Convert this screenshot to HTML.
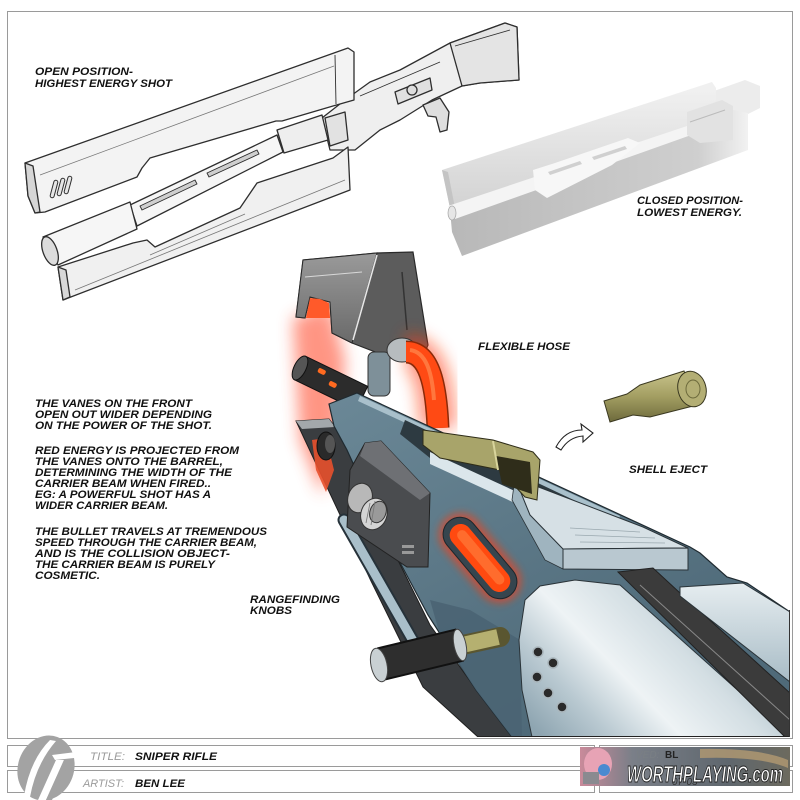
<!DOCTYPE html>
<html><head><meta charset="utf-8"><style>
html,body{margin:0;padding:0;background:#fff;width:800px;height:800px;overflow:hidden}
svg{display:block}
.t{font-family:"Liberation Sans",sans-serif;font-weight:bold;font-style:italic;font-size:11px;fill:#111}
.g{font-family:"Liberation Sans",sans-serif;font-style:italic;font-size:11px;fill:#9a9a9a}
</style></head><body>
<svg width="800" height="800" viewBox="0 0 800 800" xmlns="http://www.w3.org/2000/svg">
<defs>
 <filter id="b8" x="-60%" y="-60%" width="220%" height="220%"><feGaussianBlur stdDeviation="8"/></filter>
 <filter id="b4" x="-60%" y="-60%" width="220%" height="220%"><feGaussianBlur stdDeviation="4"/></filter>
 <linearGradient id="silver" gradientUnits="userSpaceOnUse" x1="545" y1="740" x2="690" y2="600">
  <stop offset="0" stop-color="#8ea5b1"/><stop offset="0.25" stop-color="#b9c9d1"/>
  <stop offset="0.5" stop-color="#eef3f5"/><stop offset="0.8" stop-color="#d3dee3"/><stop offset="1" stop-color="#b3c4cc"/>
 </linearGradient>
 <linearGradient id="bar" x1="0" y1="0" x2="0" y2="1">
  <stop offset="0" stop-color="#e6edf0"/><stop offset="1" stop-color="#a8bcc6"/>
 </linearGradient>
 <linearGradient id="body" gradientUnits="userSpaceOnUse" x1="340" y1="400" x2="520" y2="737">
  <stop offset="0" stop-color="#6a8796"/><stop offset="1" stop-color="#4f6a79"/>
 </linearGradient>
 <linearGradient id="vane" x1="0" y1="0" x2="0" y2="1">
  <stop offset="0" stop-color="#9a9a9a"/><stop offset="1" stop-color="#6a6a6a"/>
 </linearGradient>
 <linearGradient id="lslab" gradientUnits="userSpaceOnUse" x1="450" y1="0" x2="760" y2="0">
  <stop offset="0" stop-color="#b8b8b8"/><stop offset="0.8" stop-color="#cfcfcf"/><stop offset="1" stop-color="#fafafa"/>
 </linearGradient>
 <linearGradient id="uslab" gradientUnits="userSpaceOnUse" x1="0" y1="90" x2="0" y2="210">
  <stop offset="0" stop-color="#f0f0f0"/><stop offset="1" stop-color="#d2d2d2"/>
 </linearGradient>
 <linearGradient id="shell" x1="0" y1="0" x2="0" y2="1">
  <stop offset="0" stop-color="#c9c48c"/><stop offset="0.5" stop-color="#a39e62"/><stop offset="1" stop-color="#6d6a3c"/>
 </linearGradient>
 <linearGradient id="banner" x1="0" y1="0" x2="1" y2="0">
  <stop offset="0" stop-color="#c98a9a"/><stop offset="0.25" stop-color="#7a7f88"/><stop offset="0.7" stop-color="#5f676e"/><stop offset="1" stop-color="#6c6a5e"/>
 </linearGradient>
 <clipPath id="gclip"><rect x="0" y="0" width="790" height="737"/></clipPath>
</defs>

<!-- frame -->
<rect x="7.5" y="11.5" width="785" height="727" fill="#fff" stroke="#9a9a9a"/>

<!-- ===== OPEN POSITION GUN (sketch) ===== -->
<g stroke="#2e2e2e" stroke-width="1.3" stroke-linejoin="round">
 <polygon points="322,118 345,100 370,82 400,70 450,43 505,23 517,27 519,80 480,83 462,86 432,100 400,120 380,130 355,150 330,150" fill="#efefef"/>
 <polygon points="450,43 505,23 517,27 519,80 480,83 462,86" fill="#e4e4e4"/>
 <polygon points="423,105 440,98 449,112 447,130 440,132 436,117 428,116" fill="#dedede"/>
 <polygon points="395,92 430,78 432,90 398,104" fill="#e0e0e0"/>
 <circle cx="412" cy="90" r="5" fill="#ddd"/>
 <polygon points="325,118 345,112 348,140 330,146" fill="#e2e2e2"/>
 <line x1="360" y1="96" x2="440" y2="62" stroke-width="0.8"/>
 <line x1="455" y1="46" x2="510" y2="30" stroke-width="0.8"/>
 <polygon points="58,267 133,243 147,240 155,247 240,208 257,183 333,158 348,147 350,190 63,300" fill="#f0f0f0"/>
 <polygon points="58,267 63,300 70,297 66,270" fill="#d8d8d8"/>
 <line x1="75" y1="290" x2="345" y2="180" stroke="#777" stroke-width="0.8"/>
 <line x1="150" y1="255" x2="245" y2="214" stroke="#777" stroke-width="0.8"/>
 <polygon points="130,205 277,135 283,152 137,226" fill="#f6f6f6"/>
 <polygon points="277,130 322,115 328,140 284,153" fill="#eeeeee"/>
 <polygon points="43,237 130,202 137,229 58,265" fill="#f6f6f6"/>
 <ellipse cx="50" cy="251" rx="7" ry="15" transform="rotate(-20 50 251)" fill="#dcdcdc"/>
 <polygon points="140,206 195,180 197,184 142,210" fill="#cfcfcf" stroke-width="0.9"/>
 <polygon points="207,173 257,150 259,154 209,177" fill="#cfcfcf" stroke-width="0.9"/>
 <polygon points="25,163 348,48 354,52 354,100 333,106 282,121 276,121 150,158 142,168 137,177 45,212 35,213 28,196" fill="#f3f3f3"/>
 <polygon points="25,163 33,166 40,212 35,213 28,196" fill="#d6d6d6"/>
 <line x1="40" y1="175" x2="334" y2="66" stroke="#777" stroke-width="0.8"/>
 <line x1="335" y1="55" x2="336" y2="104" stroke-width="0.9"/>
 <g fill="#e6e6e6" stroke-width="1">
  <rect x="52" y="180" width="4" height="18" rx="2" transform="rotate(15 54 189)"/>
  <rect x="59" y="178" width="4" height="18" rx="2" transform="rotate(15 61 187)"/>
  <rect x="66" y="176" width="4" height="18" rx="2" transform="rotate(15 68 185)"/>
 </g>
</g>

<!-- ===== CLOSED POSITION GUN (shaded) ===== -->
<g>
 <polygon points="700,96 745,80 760,86 760,108 740,118 700,118" fill="#ececec"/>
 <polygon points="450,210 733,110 748,113 748,150 462,256 452,232" fill="url(#lslab)"/>
 <polygon points="442,170 712,82 716,88 716,100 690,128 450,208" fill="url(#uslab)"/>
 <polygon points="442,170 448,172 455,208 450,208" fill="#c4c4c4"/>
 <polygon points="448,206 690,125 694,134 455,219" fill="#f4f4f4"/>
 <ellipse cx="452" cy="213" rx="4" ry="7" fill="#e6e6e6" stroke="#aaa" stroke-width="0.8"/>
 <polygon points="533,170 555,163 628,138 640,143 612,165 547,198 535,190" fill="#f7f7f7"/>
 <polygon points="548,172 580,161 582,164 550,175" fill="#d0d0d0"/>
 <polygon points="592,157 625,146 627,149 594,160" fill="#d0d0d0"/>
 <polygon points="687,112 722,100 733,106 733,140 700,143 687,135" fill="#e2e2e2"/>
 <line x1="690" y1="122" x2="725" y2="110" stroke="#bbb" stroke-width="1"/>
</g>

<!-- ===== MAIN GUN ===== -->
<g clip-path="url(#gclip)">
 <polygon points="293,318 330,305 345,360 338,440 322,495 300,440" fill="#ff5030" opacity="0.6" filter="url(#b8)"/>
 <polygon points="303,260 377,253 413,252 428,345 425,352 378,353 352,343 332,333 330,302 310,297 305,318 296,317" fill="#5c5c5c" stroke="#2a2a2a" stroke-width="1.2"/>
 <polygon points="303,260 377,253 352,343 332,333 330,302 310,297 305,318 296,317" fill="url(#vane)" stroke="#2a2a2a" stroke-width="1"/>
 <line x1="377" y1="255" x2="353" y2="340" stroke="#e8e8e8" stroke-width="1.5"/>
 <line x1="305" y1="277" x2="362" y2="272" stroke="#d8d8d8" stroke-width="1"/>
 <line x1="402" y1="272" x2="407" y2="330" stroke="#333" stroke-width="1.5"/>
 <polygon points="310,298 320,299 329,303 330,318 306,318" fill="#ff5a2a"/>
 <rect x="368" y="352" width="22" height="44" rx="6" fill="#7e9099" stroke="#333" stroke-width="1"/>
 <path d="M406,352 C428,352 436,380 438,428" stroke="#ff3a10" stroke-width="36" fill="none" opacity="0.55" filter="url(#b8)"/>
 <ellipse cx="402" cy="350" rx="15" ry="12" fill="#b7bcbf" stroke="#333" stroke-width="1"/>
 <path d="M406,352 C428,352 436,380 438,428" stroke="#8a2a0a" stroke-width="23" fill="none"/>
 <path d="M406,352 C428,352 436,380 438,428" stroke="#ff4a14" stroke-width="20" fill="none"/>
 <path d="M410,350 C426,352 432,372 434,400" stroke="#ff8a50" stroke-width="4" fill="none" opacity="0.7"/>
 <polygon points="305.7,356.3 367.7,386.3 356.3,409.7 294.3,379.7" fill="#2c2c2c" stroke="#111" stroke-width="1"/>
 <ellipse cx="300" cy="368" rx="6" ry="13" transform="rotate(26 300 368)" fill="#555" stroke="#111"/>
 <rect x="318" y="369" width="8" height="5" rx="2" fill="#ff6a20" transform="rotate(26 322 371)"/>
 <rect x="329" y="382" width="8" height="5" rx="2" fill="#ff6a20" transform="rotate(26 333 384)"/>
 <polygon points="296,421 329,419 336,428 345,445 388,540 430,625 480,695 512,737 478,737 423,687 371,581" fill="#3a3d40" stroke="#1e1e1e" stroke-width="1"/>
 <polygon points="296,421 329,419 335,427 302,429" fill="#a3a8ab"/>
 <polygon points="312,440 326,438 334,470 326,492 316,470" fill="#e8502c" opacity="0.9"/>
 <polygon points="329,404 357,393 690,547 700,553 727,577 747,583 790,612 790,737 512,737 476,690 428,615 388,540 347,450 334,426" fill="url(#body)" stroke="#1f2a30" stroke-width="1.2"/>
 <line x1="344" y1="520" x2="416" y2="646" stroke="#26323a" stroke-width="13" stroke-linecap="round"/>
 <line x1="344" y1="520" x2="416" y2="646" stroke="#a9bfca" stroke-width="9" stroke-linecap="round"/>
 <polygon points="430,600 470,610 520,640 522,737 512,737 476,690 440,635" fill="#4a6473" opacity="0.9"/>
 <!-- top outer wall strip -->
 <polygon points="360,396 620,516 618,521 358,401" fill="#a9c0cb"/>
 <polygon points="405,420 618,521 605,530 540,505 430,458 400,434" fill="#2d3a41"/>
 <polygon points="430,452 565,514 565,526 430,464" fill="#dbe6eb"/>
 <ellipse cx="326" cy="446" rx="9" ry="14" fill="#2a2a2a" stroke="#111"/>
 <ellipse cx="330" cy="444" rx="5" ry="9" fill="#555"/>
 <polygon points="365,443 381,441 430,493 428,567 407,567 347,527 350,470" fill="#4a4c4f" stroke="#222" stroke-width="1"/>
 <polygon points="365,443 381,441 430,493 420,500 360,456" fill="#6e7074"/>
 <g stroke="#333" stroke-width="1">
  <ellipse cx="360" cy="498" rx="12" ry="15" transform="rotate(20 360 498)" fill="#b8b8b8"/>
  <ellipse cx="374" cy="514" rx="13" ry="16" transform="rotate(20 374 514)" fill="#d4d4d4"/>
  <ellipse cx="378" cy="512" rx="8" ry="11" transform="rotate(20 378 512)" fill="#9a9a9a"/>
  <line x1="370" y1="503" x2="366" y2="523" stroke="#777" stroke-width="0.8"/>
  <line x1="375" y1="501" x2="371" y2="525" stroke="#777" stroke-width="0.8"/>
 </g>
 <rect x="402" y="545" width="12" height="3" fill="#999"/><rect x="402" y="551" width="12" height="3" fill="#999"/>
 <g transform="translate(480 558) rotate(50)">
  <rect x="-52" y="-22" width="104" height="44" rx="22" fill="#ff3a10" opacity="0.6" filter="url(#b4)"/>
  <rect x="-48" y="-17" width="96" height="34" rx="17" fill="#36454e" stroke="#1b252b"/>
  <rect x="-41" y="-11" width="82" height="22" rx="11" fill="#ff4a10"/>
  <rect x="-34" y="-6" width="68" height="10" rx="5" fill="#ff7a3a" opacity="0.7"/>
 </g>
 <polygon points="515,478 530,515 563,549 563,569 545,560 512,500" fill="#9fb4bf" stroke="#2a3338" stroke-width="0.8"/>
 <polygon points="515,478 643,527 688,548 563,549 530,515" fill="#d6e0e5" stroke="#2a3338" stroke-width="1"/>
 <polygon points="563,549 688,548 688,570 563,569" fill="#b9c8d0" stroke="#2a3338" stroke-width="1"/>
 <g stroke="#9aa8af" stroke-width="0.7"><line x1="570" y1="528" x2="640" y2="532"/><line x1="575" y1="535" x2="655" y2="538"/><line x1="580" y1="542" x2="665" y2="543"/></g>
 <polygon points="423,430 493,440 533,452 540,460 537,500 525,497 500,470 440,458 423,445" fill="#a8a46a" stroke="#2e2c18" stroke-width="1"/>
 <polygon points="496,456 530,462 532,494 502,484" fill="#2f2d1a"/>
 <line x1="493" y1="441" x2="498" y2="470" stroke="#d8d49c" stroke-width="2"/>
 <polygon points="525,600 540,586 575,580 620,585 790,737 532,737 522,690 519,640" fill="url(#silver)" stroke="#2a3338" stroke-width="1"/>
 <g fill="#2a2a2a" stroke="#aab6bc" stroke-width="1.5">
  <circle cx="538" cy="652" r="5"/><circle cx="553" cy="663" r="5"/><circle cx="537" cy="677" r="5"/><circle cx="548" cy="693" r="5"/><circle cx="562" cy="707" r="5"/>
 </g>
 <polygon points="618,572 653,568 680,593 790,693 790,737 785,737" fill="#3b3b3b" stroke="#222"/>
 <line x1="640" y1="585" x2="790" y2="720" stroke="#888" stroke-width="1"/>
 <polygon points="680,587 743,583 790,612 790,682 680,596" fill="url(#bar)" stroke="#2a3338" stroke-width="1"/>
 <line x1="458" y1="646" x2="500" y2="637" stroke="#5a5630" stroke-width="20" stroke-linecap="round"/>
 <line x1="458" y1="646" x2="498" y2="637" stroke="#b5b070" stroke-width="16"/>
 <line x1="381" y1="664" x2="460" y2="645" stroke="#111" stroke-width="34"/>
 <line x1="381" y1="664" x2="460" y2="645" stroke="#2e2e2e" stroke-width="30"/>
 <ellipse cx="379" cy="665" rx="8" ry="17" transform="rotate(-12 379 665)" fill="#c9d0d3" stroke="#444"/>
 <ellipse cx="460" cy="645" rx="6" ry="16" transform="rotate(-12 460 645)" fill="#c9d0d3" stroke="#444"/>
 <line x1="478" y1="737" x2="790" y2="737" stroke="#222" stroke-width="2"/>
 <line x1="790" y1="610" x2="790" y2="737" stroke="#333" stroke-width="2"/>
</g>

<g stroke="#3a3820" stroke-width="1">
 <polygon points="684,371 640,385 627,394 604,401 610,422 633,415 650,417 697,405" fill="url(#shell)"/>
 <ellipse cx="692" cy="389" rx="14" ry="18" transform="rotate(-15 692 389)" fill="#b3ae74"/>
 <ellipse cx="693" cy="389" rx="7" ry="9" fill="none" stroke="#6d6a3c"/>
</g>
<path d="M556,447 Q565,430 582,430 L581,424 L593,433 L583,442 L583,436 Q569,437 561,450 Z" fill="#fff" stroke="#222" stroke-width="1.1"/>

<text class="t" x="35" y="75" textLength="98" lengthAdjust="spacingAndGlyphs">OPEN POSITION-</text>
<text class="t" x="35" y="87" textLength="137" lengthAdjust="spacingAndGlyphs">HIGHEST ENERGY SHOT</text>
<text class="t" x="637" y="204" textLength="106" lengthAdjust="spacingAndGlyphs">CLOSED POSITION-</text>
<text class="t" x="637" y="216" textLength="105" lengthAdjust="spacingAndGlyphs">LOWEST ENERGY.</text>
<text class="t" x="478" y="350" textLength="92" lengthAdjust="spacingAndGlyphs">FLEXIBLE HOSE</text>
<text class="t" x="629" y="473" textLength="78" lengthAdjust="spacingAndGlyphs">SHELL EJECT</text>
<text class="t" x="250" y="603" textLength="90" lengthAdjust="spacingAndGlyphs">RANGEFINDING</text>
<text class="t" x="250" y="614" textLength="42" lengthAdjust="spacingAndGlyphs">KNOBS</text>

<text class="t" x="35" y="407" textLength="157" lengthAdjust="spacingAndGlyphs">THE VANES ON THE FRONT</text>
<text class="t" x="35" y="418" textLength="177" lengthAdjust="spacingAndGlyphs">OPEN OUT WIDER DEPENDING</text>
<text class="t" x="35" y="429" textLength="177" lengthAdjust="spacingAndGlyphs">ON THE POWER OF THE SHOT.</text>

<text class="t" x="35" y="454" textLength="204" lengthAdjust="spacingAndGlyphs">RED ENERGY IS PROJECTED FROM</text>
<text class="t" x="35" y="465" textLength="188" lengthAdjust="spacingAndGlyphs">THE VANES ONTO THE BARREL,</text>
<text class="t" x="35" y="476" textLength="197" lengthAdjust="spacingAndGlyphs">DETERMINING THE WIDTH OF THE</text>
<text class="t" x="35" y="487" textLength="176" lengthAdjust="spacingAndGlyphs">CARRIER BEAM WHEN FIRED..</text>
<text class="t" x="35" y="498" textLength="176" lengthAdjust="spacingAndGlyphs">EG: A POWERFUL SHOT HAS A</text>
<text class="t" x="35" y="509" textLength="133" lengthAdjust="spacingAndGlyphs">WIDER CARRIER BEAM.</text>

<text class="t" x="35" y="535" textLength="232" lengthAdjust="spacingAndGlyphs">THE BULLET TRAVELS AT TREMENDOUS</text>
<text class="t" x="35" y="546" textLength="222" lengthAdjust="spacingAndGlyphs">SPEED THROUGH THE CARRIER BEAM,</text>
<text class="t" x="35" y="557" textLength="195" lengthAdjust="spacingAndGlyphs">AND IS THE COLLISION OBJECT-</text>
<text class="t" x="35" y="568" textLength="180" lengthAdjust="spacingAndGlyphs">THE CARRIER BEAM IS PURELY</text>
<text class="t" x="35" y="579" textLength="65" lengthAdjust="spacingAndGlyphs">COSMETIC.</text>

<g fill="none" stroke="#9a9a9a" stroke-width="1">
 <rect x="7.5" y="745.5" width="587" height="21"/>
 <rect x="7.5" y="770.5" width="587" height="22"/>
 <rect x="599.5" y="745.5" width="193" height="21"/>
 <rect x="599.5" y="770.5" width="193" height="22"/>
</g>
<g>
 <ellipse cx="46" cy="768" rx="28" ry="33" transform="rotate(20 46 768)" fill="#a3a3a3"/>
 <path d="M50,740 Q30,760 24,796 L30,797 Q36,764 56,741 Z" fill="#fff"/>
 <polygon points="52,755 76,752 74,758 55,760" fill="#fff"/>
 <polygon points="56,760 64,760 46,800 38,800" fill="#fff"/>
 <polygon points="64,760 70,760 52,800 46,800" fill="#a3a3a3"/>
</g>
<text class="g" x="90" y="760" textLength="35" lengthAdjust="spacingAndGlyphs">TITLE:</text>
<text class="t" x="135" y="760" textLength="82" lengthAdjust="spacingAndGlyphs">SNIPER RIFLE</text>
<text class="g" x="83" y="787" textLength="41" lengthAdjust="spacingAndGlyphs">ARTIST:</text>
<text class="t" x="135" y="787" textLength="50" lengthAdjust="spacingAndGlyphs">BEN LEE</text>

<g>
 <rect x="580" y="747" width="210" height="39" fill="url(#banner)"/>
 <path d="M700,749 Q760,748 788,760 L788,768 Q760,756 700,758 Z" fill="#b39a72" opacity="0.8"/>
 <ellipse cx="598" cy="764" rx="14" ry="16" fill="#e7a3b5"/>
 <ellipse cx="604" cy="770" rx="6" ry="6" fill="#4a8ad0"/>
 <rect x="583" y="772" width="16" height="12" fill="#8a8a90"/>
 <text x="636" y="758" font-family="Liberation Sans, sans-serif" font-style="italic" font-size="10" fill="#7a7f84">VED:</text>
 <text x="665" y="758" font-family="Liberation Sans, sans-serif" font-weight="bold" font-size="10" fill="#222">BL</text>
 <text x="672" y="785" font-family="Liberation Sans, sans-serif" font-style="italic" font-size="10" fill="#333">07-03</text>
 <text x="627" y="782" font-family="Liberation Sans, sans-serif" font-weight="bold" font-style="italic" font-size="23" fill="#fff" stroke="#222" stroke-width="1" textLength="156" lengthAdjust="spacingAndGlyphs">WORTHPLAYING.com</text>
</g>
</svg>
</body></html>
